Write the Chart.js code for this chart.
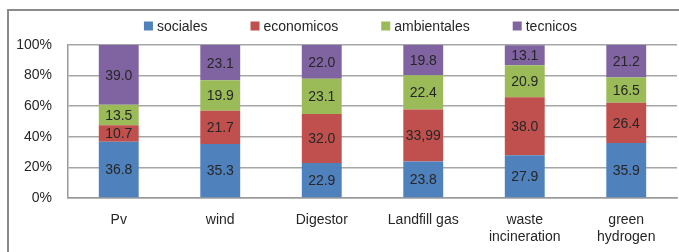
<!DOCTYPE html>
<html>
<head>
<meta charset="utf-8">
<script src="https://cdn.jsdelivr.net/npm/chart.js@4.4.1/dist/chart.umd.min.js"></script>
<style>
  html, body { margin: 0; padding: 0; background: #fff; overflow: hidden; }
  #wrap { position: relative; width: 679px; height: 252px; }
  #frame { position: absolute; left: 7px; top: 9px; width: 720px; height: 300px; border: 2px solid #8a8a8a; box-sizing: border-box; }
  canvas { position: absolute; left: 0; top: 0; }
</style>
</head>
<body>
<div id="wrap">
  <div id="frame"></div>
  <canvas id="c" width="679" height="252"></canvas>
</div>
<script>
const categories = ['Pv', 'wind', 'Digestor', 'Landfill gas', ['waste', 'incineration'], ['green', 'hydrogen']];
const sociales    = [36.8, 35.3, 22.9, 23.8, 27.9, 35.9];
const economicos  = [10.7, 21.7, 32.0, 33.99, 38.0, 26.4];
const ambientales = [13.5, 19.9, 23.1, 22.4, 20.9, 16.5];
const tecnicos    = [39.0, 23.1, 22.0, 19.8, 13.1, 21.2];
const seriesNames = ['sociales', 'economicos', 'ambientales', 'tecnicos'];
const yTicks = [0, 20, 40, 60, 80, 100];

const colors = ['#4F81BD', '#C0504D', '#9BBB59', '#8064A2'];
const FONT = '"Liberation Sans", Arial, sans-serif';
const TEXT = '#262626';

function fmt(v) {
  const s = String(v);
  const dec = s.includes('.') ? s.split('.')[1].length : 0;
  if (dec >= 2) return v.toFixed(2).replace('.', ',');
  return v.toFixed(1);
}

const dataLabels = {
  id: 'dataLabels',
  afterDatasetsDraw(chart) {
    const ctx = chart.ctx;
    ctx.save();
    ctx.font = '14px ' + FONT;
    ctx.fillStyle = TEXT;
    ctx.textAlign = 'center';
    ctx.textBaseline = 'middle';
    chart.data.datasets.forEach((ds, i) => {
      const meta = chart.getDatasetMeta(i);
      meta.data.forEach((el, j) => {
        const y = (el.y + el.base) / 2;
        ctx.fillText(fmt(ds.data[j]), el.x, y + 1);
      });
    });
    ctx.restore();
  }
};

const customLegend = {
  id: 'customLegend',
  afterDraw(chart) {
    const ctx = chart.ctx;
    ctx.save();
    ctx.font = '14px ' + FONT;
    const box = 9, gapText = 4, gapItem = 43;
    const widths = chart.data.datasets.map(d => box + gapText + ctx.measureText(d.label).width);
    const total = widths.reduce((a, b) => a + b, 0) + gapItem * (widths.length - 1);
    let x = 360.5 - total / 2;
    const y = 26;
    ctx.textBaseline = 'middle';
    ctx.textAlign = 'left';
    chart.data.datasets.forEach((d, i) => {
      ctx.fillStyle = d.backgroundColor;
      ctx.fillRect(x, y - box / 2, box, box);
      ctx.fillStyle = TEXT;
      ctx.fillText(d.label, x + box + gapText, y + 1);
      x += widths[i] + gapItem;
    });
    ctx.restore();
  }
};

const seriesData = [sociales, economicos, ambientales, tecnicos];

new Chart(document.getElementById('c'), {
  type: 'bar',
  data: {
    labels: categories,
    datasets: seriesNames.map((n, i) => ({
      label: n,
      data: seriesData[i],
      backgroundColor: colors[i],
      borderWidth: 0,
      categoryPercentage: 1,
      barPercentage: 0.393
    }))
  },
  options: {
    responsive: false,
    animation: false,
    devicePixelRatio: 1,
    layout: { padding: { top: 45, left: 0, right: 2, bottom: 0 } },
    plugins: { legend: { display: false }, tooltip: { enabled: false } },
    scales: {
      x: {
        stacked: true,
        grid: { display: false, drawTicks: false },
        border: { display: true, color: '#9a9a9a', width: 1.5 },
        ticks: { color: TEXT, font: { family: FONT, size: 14 }, padding: 14, maxRotation: 0, autoSkip: false },
        afterFit(s) { s.height = 54; }
      },
      y: {
        stacked: true,
        min: 0, max: 100,
        afterBuildTicks(s) { s.ticks = yTicks.map(v => ({ value: v })); },
        grid: { color: '#a6a6a6', lineWidth: 1.5, drawTicks: false },
        border: { display: true, color: '#9a9a9a', width: 1.5 },
        ticks: { color: TEXT, font: { family: FONT, size: 14 }, padding: 16, callback: v => v + '%' },
        afterFit(s) { s.width = 68; }
      }
    }
  },
  plugins: [dataLabels, customLegend]
});
</script>
</body>
</html>
